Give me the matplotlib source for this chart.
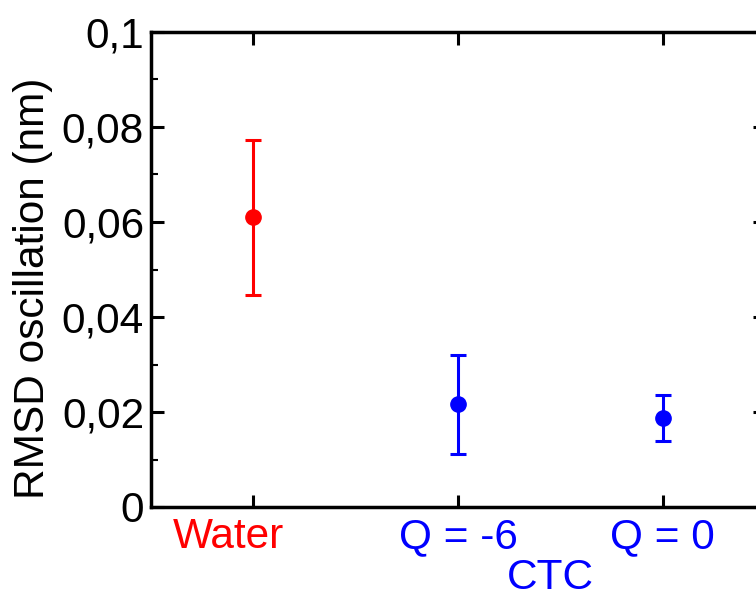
import matplotlib.pyplot as plt
from matplotlib.ticker import MultipleLocator, FuncFormatter

categories = ["Water", "Q = -6", "Q = 0"]
values = [0.061, 0.0216, 0.0187]
errors = [0.0163, 0.0104, 0.0049]
colors = ["#ff0000", "#0000ff", "#0000ff"]
group_label = "CTC"

plt.rcParams['font.family'] = ['Liberation Sans', 'DejaVu Sans']
FS = 30.5

fig = plt.figure(figsize=(7.56, 5.97), dpi=100)
# right spine falls just past the image edge, like the original
ax = fig.add_axes([151 / 756, 1 - 507 / 597, (765 - 151) / 756, (507 - 32) / 597])

x = list(range(len(categories)))
for xi, v, e, c in zip(x, values, errors, colors):
    ax.errorbar(xi, v, yerr=e, fmt='o', color=c, ms=11, elinewidth=2.2,
                capsize=6, capthick=2.2, clip_on=False)

ax.set_xlim(-0.5, 2.5)
ax.set_ylim(0, 0.1)
ax.set_xticks(x)
# "Water" sits a bit left of its tick in the original, so draw it by hand
ax.set_xticklabels([""] + categories[1:], fontsize=FS)
for lbl, c in zip(ax.get_xticklabels(), colors):
    lbl.set_color(c)
ax.annotate(categories[0], xy=(x[0], 0), xycoords=('data', 'axes fraction'),
            xytext=(-18, -7), textcoords='offset points', ha='center', va='top',
            fontsize=FS, color=colors[0])

ax.yaxis.set_major_locator(MultipleLocator(0.02))
ax.yaxis.set_minor_locator(MultipleLocator(0.01))
ax.yaxis.set_major_formatter(FuncFormatter(
    lambda v, p: "0" if abs(v) < 1e-9 else ("%g" % round(v, 3)).replace(".", ",")))
ax.tick_params(axis='y', labelsize=FS)
ax.tick_params(which='both', direction='in', top=True, right=True, width=2.2)
ax.tick_params(which='major', length=9, pad=5)
ax.tick_params(axis='x', which='major', pad=7)
ax.tick_params(which='minor', length=5, width=1.5)
ax.tick_params(axis='x', which='minor', top=False, bottom=False)
for s in ax.spines.values():
    s.set_linewidth(2.5)

ax.set_ylabel("RMSD oscillation (nm)", fontsize=FS)
ax.yaxis.set_label_coords(-0.16, 0.46)
fig.text(550 / 756, 1 - 578 / 597, group_label, color="#0000ff", fontsize=FS,
         ha='center', va='center')

fig.savefig("out.png", dpi=100)
